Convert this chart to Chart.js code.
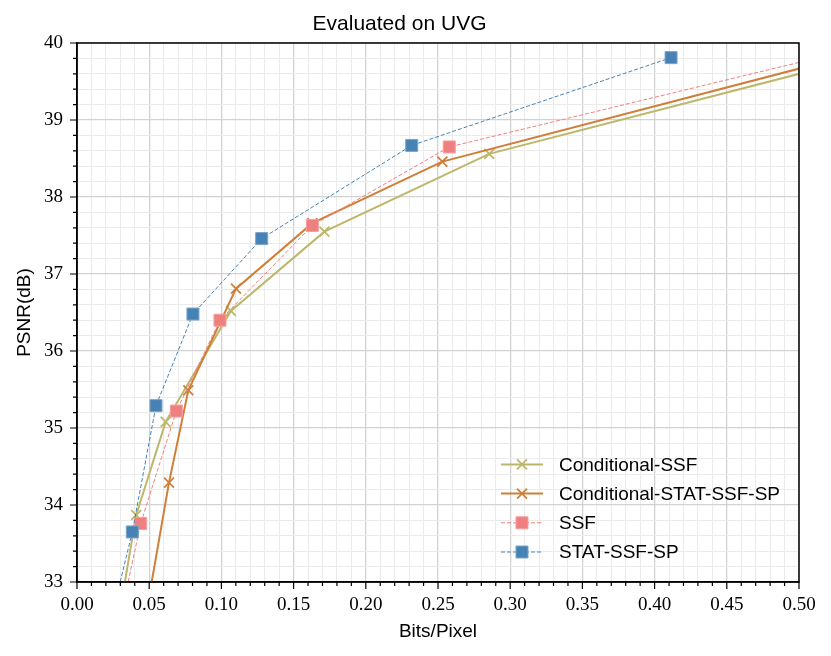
<!DOCTYPE html>
<html>
<head>
<meta charset="utf-8">
<script src="https://cdn.jsdelivr.net/npm/chart.js@4.4.0/dist/chart.umd.min.js"></script>
<style>
  html, body { margin: 0; padding: 0; background: #fff; }
  #wrap { width: 831px; height: 656px; }
</style>
</head>
<body>
<div id="wrap"><canvas id="rdChart" width="831" height="656"></canvas></div>
<script>
// rate-distortion points (bits per pixel, PSNR in dB)
const condSsfBpp = [0.030, 0.041, 0.0614, 0.1066, 0.1713, 0.2855, 0.56];
const condSsfPsnr = [32.65, 33.87, 35.08, 36.52, 37.55, 38.56, 39.89];

const condStatBpp = [0.048, 0.0637, 0.0771, 0.1101, 0.163, 0.253, 0.56];
const condStatPsnr = [32.6, 34.29, 35.49, 36.81, 37.66, 38.46, 39.96];

const ssfBpp = [0.032, 0.0441, 0.0688, 0.099, 0.163, 0.2578, 0.56];
const ssfPsnr = [32.7, 33.76, 35.22, 36.40, 37.63, 38.65, 40.02];

const statBpp = [0.026, 0.0383, 0.0547, 0.0803, 0.1279, 0.2318, 0.4114];
const statPsnr = [32.7, 33.65, 35.29, 36.48, 37.46, 38.67, 39.81];

const seriesNames = ["Conditional-SSF", "Conditional-STAT-SSF-SP", "SSF", "STAT-SSF-SP"];

const serifFont = "'Liberation Serif', 'DejaVu Serif', serif";
const sansFont = "'Liberation Sans', 'DejaVu Sans', sans-serif";

function toPoints(xs, ys) {
  return xs.map((x, i) => ({ x: x, y: ys[i] }));
}

function isMajorX(v) {
  return Math.round(v * 100) % 5 === 0;
}
function isMajorY(v) {
  return Math.abs(v - Math.round(v)) < 1e-6;
}

// box round the axes, outward ticks, and the legend inside the plot
const framePlugin = {
  id: "frame",
  afterDraw(chart) {
    const ctx = chart.ctx;
    const area = chart.chartArea;
    const xs = chart.scales.x;
    const ys = chart.scales.y;
    ctx.save();
    ctx.strokeStyle = "#000";
    ctx.lineWidth = 1.5;
    ctx.strokeRect(area.left, area.top, area.right - area.left, area.bottom - area.top);

    ctx.lineWidth = 1.2;
    ctx.beginPath();
    xs.ticks.forEach((t) => {
      const px = xs.getPixelForValue(t.value);
      const len = isMajorX(t.value) ? 7 : 4;
      ctx.moveTo(px, area.bottom);
      ctx.lineTo(px, area.bottom + len);
    });
    ys.ticks.forEach((t) => {
      const py = ys.getPixelForValue(t.value);
      const len = isMajorY(t.value) ? 7 : 4;
      ctx.moveTo(area.left, py);
      ctx.lineTo(area.left - len, py);
    });
    ctx.stroke();

    // legend
    const n = chart.data.datasets.length;
    chart.data.datasets.forEach((ds, i) => {
      const y = area.bottom - 30 - (n - 1 - i) * 29.2;
      const x0 = area.right - 298;
      const x1 = area.right - 256;
      ctx.save();
      ctx.strokeStyle = ds.borderColor;
      ctx.lineWidth = ds.borderWidth;
      ctx.setLineDash(ds.borderDash || []);
      ctx.beginPath();
      ctx.moveTo(x0, y);
      ctx.lineTo(x1, y);
      ctx.stroke();
      ctx.restore();
      ctx.save();
      ctx.strokeStyle = ds.pointBorderColor;
      ctx.fillStyle = ds.pointBackgroundColor;
      ctx.lineWidth = ds.pointBorderWidth;
      Chart.helpers.drawPoint(ctx, {
        pointStyle: ds.pointStyle,
        radius: ds.pointRadius,
        rotation: 0,
        borderWidth: ds.pointBorderWidth
      }, (x0 + x1) / 2, y);
      ctx.restore();
      ctx.fillStyle = "#000";
      ctx.font = "19px " + sansFont;
      ctx.textBaseline = "middle";
      ctx.textAlign = "left";
      ctx.fillText(ds.label, area.right - 240, y + 1);
    });
    ctx.restore();
  }
};

const datasets = [
  {
    label: seriesNames[0],
    data: toPoints(condSsfBpp, condSsfPsnr),
    borderColor: "#BDB76B",
    backgroundColor: "#BDB76B",
    borderWidth: 2,
    pointStyle: "crossRot",
    pointRadius: 7,
    pointBorderWidth: 1.8,
    pointBorderColor: "#BDB76B",
    pointBackgroundColor: "#BDB76B",
    order: 4
  },
  {
    label: seriesNames[1],
    data: toPoints(condStatBpp, condStatPsnr),
    borderColor: "#CF7F38",
    backgroundColor: "#CF7F38",
    borderWidth: 2,
    pointStyle: "crossRot",
    pointRadius: 7,
    pointBorderWidth: 1.8,
    pointBorderColor: "#CF7F38",
    pointBackgroundColor: "#CF7F38",
    order: 3
  },
  {
    label: seriesNames[2],
    data: toPoints(ssfBpp, ssfPsnr),
    borderColor: "#F08080",
    backgroundColor: "#F08080",
    borderWidth: 1,
    borderDash: [4, 2],
    pointStyle: "rect",
    pointRadius: 8.5,
    pointBorderWidth: 1,
    pointBorderColor: "#F4A0A0",
    pointBackgroundColor: "#F08080",
    order: 2
  },
  {
    label: seriesNames[3],
    data: toPoints(statBpp, statPsnr),
    borderColor: "#4682B4",
    backgroundColor: "#4682B4",
    borderWidth: 1,
    borderDash: [4, 2],
    pointStyle: "rect",
    pointRadius: 8.5,
    pointBorderWidth: 1,
    pointBorderColor: "#7AA6CC",
    pointBackgroundColor: "#4682B4",
    order: 1
  }
];

datasets.forEach((ds) => {
  ds.tension = 0;
  ds.fill = false;
  ds.clip = 0;
  ds.pointHoverRadius = ds.pointRadius;
});

new Chart(document.getElementById("rdChart"), {
  type: "line",
  data: { datasets },
  plugins: [framePlugin],
  options: {
    responsive: false,
    animation: false,
    events: [],
    layout: { padding: { left: 0, right: 32, top: 0, bottom: 0 } },
    plugins: {
      legend: { display: false },
      tooltip: { enabled: false },
      title: {
        display: true,
        text: "Evaluated on UVG",
        color: "#000",
        font: { family: sansFont, size: 21, weight: "normal" },
        padding: { top: 12, bottom: 5.8 }
      }
    },
    scales: {
      x: {
        type: "linear",
        min: 0,
        max: 0.5,
        afterFit(scale) { scale.height = 74; },
        ticks: {
          stepSize: 0.01,
          autoSkip: false,
          maxRotation: 0,
          padding: 12,
          color: "#000",
          font: { family: serifFont, size: 19 },
          callback: (v) => (isMajorX(v) ? v.toFixed(2) : "")
        },
        grid: {
          drawTicks: false,
          color: (c) => (c.tick && isMajorX(c.tick.value) ? "#d2d2d2" : "#ebebeb"),
          lineWidth: (c) => (c.tick && isMajorX(c.tick.value) ? 1.3 : 1)
        },
        border: { display: true, color: "#000", width: 1.5 },
        title: {
          display: true,
          text: "Bits/Pixel",
          color: "#000",
          font: { family: sansFont, size: 19 },
          padding: { top: 0, bottom: 13 }
        }
      },
      y: {
        type: "linear",
        min: 33,
        max: 40,
        afterFit(scale) { scale.width = 77; },
        ticks: {
          stepSize: 0.2,
          autoSkip: false,
          padding: 14,
          color: "#000",
          font: { family: serifFont, size: 19 },
          callback: (v) => (isMajorY(v) ? String(Math.round(v)) : "")
        },
        grid: {
          drawTicks: false,
          color: (c) => (c.tick && isMajorY(c.tick.value) ? "#d2d2d2" : "#ebebeb"),
          lineWidth: (c) => (c.tick && isMajorY(c.tick.value) ? 1.3 : 1)
        },
        border: { display: true, color: "#000", width: 1.5 },
        title: {
          display: true,
          text: "PSNR(dB)",
          color: "#000",
          font: { family: sansFont, size: 19 },
          padding: { top: 13, bottom: 0 }
        }
      }
    }
  }
});
</script>
</body>
</html>
